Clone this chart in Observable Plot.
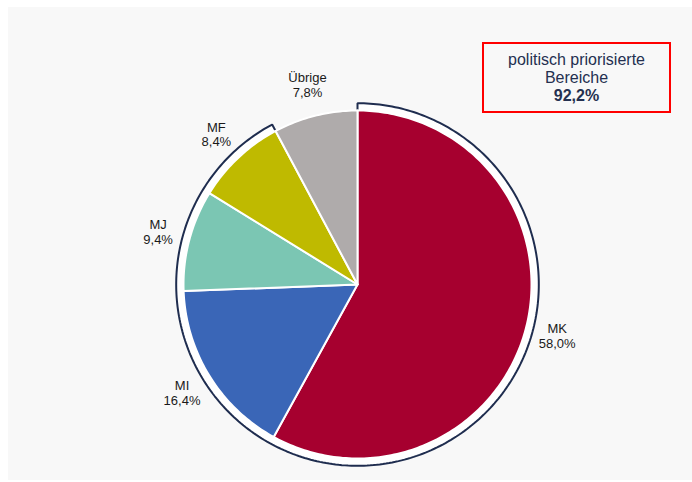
<!DOCTYPE html>
<html>
<head>
<meta charset="utf-8">
<script src="https://cdn.jsdelivr.net/npm/d3@7"></script>
<script src="https://cdn.jsdelivr.net/npm/@observablehq/plot@0.6"></script>
<style>
  html, body { margin: 0; padding: 0; background: #ffffff; }
  #wrap { position: relative; width: 692px; height: 482px; overflow: hidden; }
  #panel { position: absolute; left: 8px; top: 7px; right: 0; bottom: 2px; background: #f8f8f8; }
  #chart { position: absolute; left: 0; top: 0; }
  #box { position: absolute; left: 482px; top: 42px; width: 185px; height: 60px;
         border: 2px solid #ff0000; box-sizing: content-box;
         font-family: "Liberation Sans", Arial, sans-serif; font-size: 16px; color: #243050;
         text-align: center; line-height: 18px; padding-top: 7px; }
  #box b { font-weight: bold; }
</style>
</head>
<body>
<div id="wrap">
  <div id="panel"></div>
  <div id="chart"></div>
  <div id="box">politisch priorisierte<br>Bereiche<br><b>92,2%</b></div>
</div>
<script>
const categories = ["MK", "MI", "MJ", "MF", "Übrige"];
const shares = [58.0, 16.4, 9.4, 8.4, 7.8];
const shareLabels = ["58,0%", "16,4%", "9,4%", "8,4%", "7,8%"];
const sliceColors = ["#a6002f", "#3a66b7", "#7bc6b3", "#bfba00", "#afabab"];
const prioritized = ["MK", "MI", "MJ", "MF"];

const total = d3.sum(shares);
// angles measured clockwise from 12 o'clock
let acc = 0;
const slices = categories.map((c, i) => {
  const a0 = acc / total * 2 * Math.PI;
  acc += shares[i];
  const a1 = acc / total * 2 * Math.PI;
  return {cat: c, value: shares[i], label: shareLabels[i], a0, a1};
});

function wedge(a0, a1, r, key) {
  const pts = [{key, x: 0, y: 0}];
  const n = Math.max(2, Math.ceil((a1 - a0) / (Math.PI / 180)));
  for (let k = 0; k <= n; k++) {
    const a = a0 + (a1 - a0) * k / n;
    pts.push({key, x: r * Math.sin(a), y: r * Math.cos(a)});
  }
  pts.push({key, x: 0, y: 0});
  return pts;
}

const slicePts = slices.flatMap(s => wedge(s.a0, s.a1, 1, s.cat));
const prio = slices.filter(s => prioritized.includes(s.cat));
const outlinePts = wedge(prio[0].a0, prio[prio.length - 1].a1, 1.042, "prio");

const labelR = 1.185;
const labelData = slices.map(s => {
  const m = (s.a0 + s.a1) / 2;
  return {...s, x: labelR * Math.sin(m), y: labelR * Math.cos(m), text: s.cat + "\n" + s.label};
});

const chart = Plot.plot({
  width: 692,
  height: 482,
  x: {domain: [-1, 1], range: [183, 531], axis: null},
  y: {domain: [-1, 1], range: [458, 110], axis: null},
  color: {domain: categories, range: sliceColors},
  style: {background: "transparent", fontFamily: "'Liberation Sans', Arial, sans-serif"},
  marks: [
    Plot.line(outlinePts, {x: "x", y: "y", z: "key", fill: "#ffffff", stroke: "#1f2d4f", strokeWidth: 2, strokeLinejoin: "miter", curve: "linear"}),
    Plot.line(slicePts, {x: "x", y: "y", z: "key", fill: d => d.key, stroke: "#ffffff", strokeWidth: 2, strokeLinejoin: "round", curve: "linear"}),
    Plot.text(labelData, {x: "x", y: "y", text: "text", fill: "#1a1a1a", fontSize: 13, lineHeight: 1.15, textAnchor: "middle"})
  ]
});
document.getElementById("chart").appendChild(chart);
</script>
</body>
</html>
